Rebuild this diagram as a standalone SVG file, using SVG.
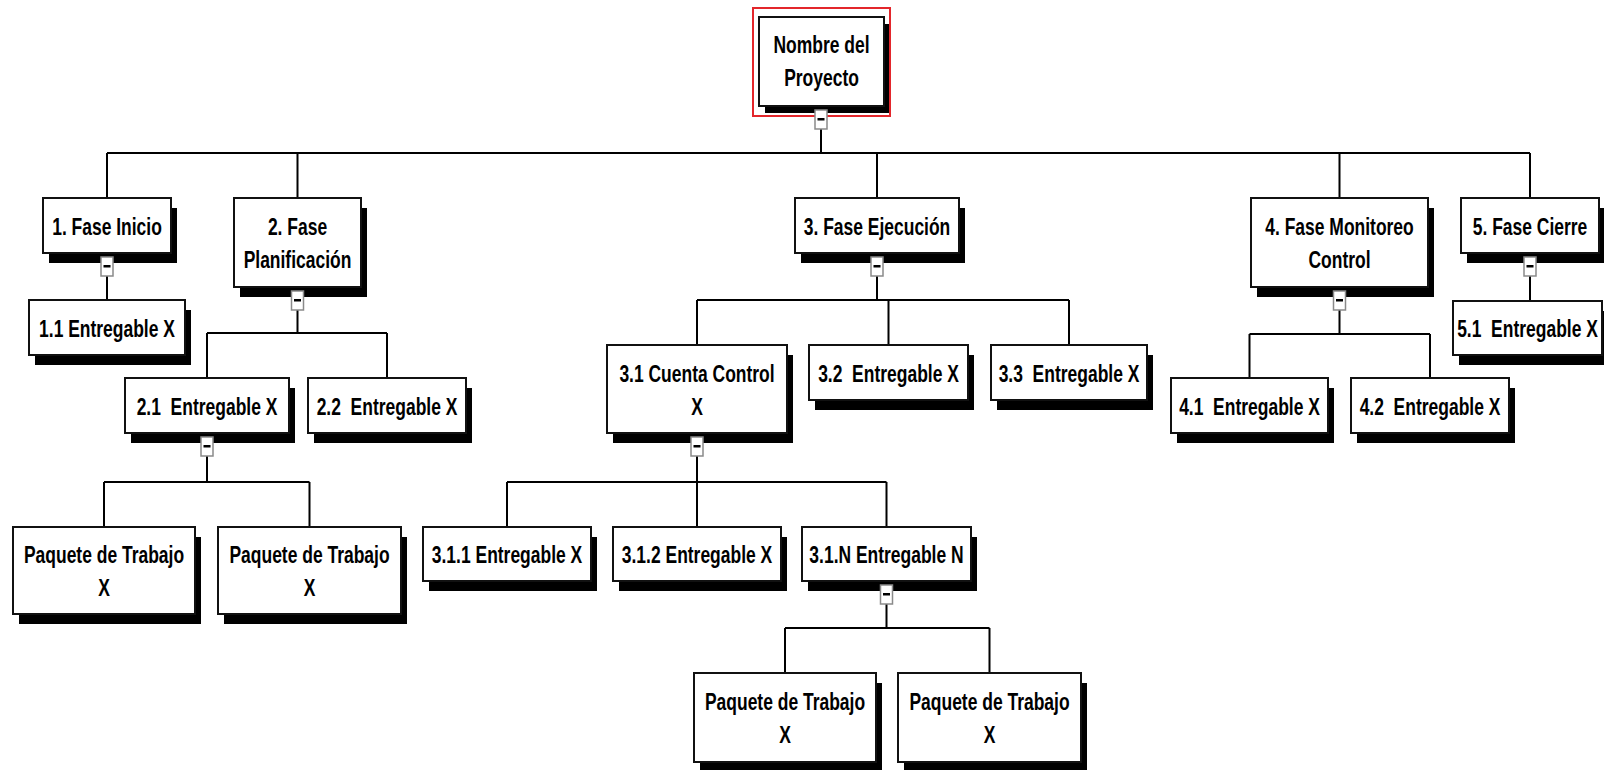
<svg xmlns="http://www.w3.org/2000/svg" width="1604" height="770" viewBox="0 0 1604 770">
  <style>
    .bg { fill: #ffffff; }
    .shadow { fill: #000000; }
    .box { fill: #ffffff; stroke: #111111; stroke-width: 2; }
    .sel { fill: none; stroke: #e3262b; stroke-width: 2; }
    .tog { fill: #ffffff; stroke: #8a8a8a; stroke-width: 1.5; }
    .minus { fill: #000000; }
    .wire { fill: none; stroke: #000000; stroke-width: 2; }
    .t { font-family: "Liberation Sans", Arial, sans-serif; font-weight: bold; font-size: 23px; fill: #000000; text-anchor: middle; white-space: pre; }
  </style>
  <defs>
    <!-- collapse toggle shown below an expanded node, origin at its top centre -->
    <g id="toggle">
      <rect class="tog" x="-6" y="0" width="12" height="19"/>
      <rect class="minus" x="-3.5" y="8" width="7" height="2.5"/>
    </g>
  </defs>

  <rect class="bg" x="0" y="0" width="1604" height="770"/>

  <!-- tree connectors -->
  <g id="connectors">
    <path class="wire" d="M821,129 V153 M107,153 H1530 M107,153 V198 M297.5,153 V198 M877,153 V198 M1339.5,153 V198 M1530,153 V198"/>
    <path class="wire" d="M107,276 V300"/>
    <path class="wire" d="M297.5,310 V333 M207,333 H387 M207,333 V378 M387,333 V378"/>
    <path class="wire" d="M207,456 V482 M104,482 H309.5 M104,482 V527 M309.5,482 V527"/>
    <path class="wire" d="M877,276 V300 M697,300 H1069 M697,300 V345 M888.5,300 V345 M1069,300 V345"/>
    <path class="wire" d="M697,456 V482 M507,482 H886.5 M507,482 V527 M697,482 V527 M886.5,482 V527"/>
    <path class="wire" d="M886.5,604 V628 M785,628 H989.5 M785,628 V673 M989.5,628 V673"/>
    <path class="wire" d="M1339.5,310 V334 M1249.5,334 H1430 M1249.5,334 V378 M1430,334 V378"/>
    <path class="wire" d="M1530,276 V301"/>
  </g>

  <!-- root -->
  <g id="root">
    <rect class="shadow" x="765" y="24" width="125" height="89"/>
    <rect class="box" x="759" y="17" width="125" height="89"/>
    <rect class="sel" x="753" y="8" width="137" height="108"/>
    <use href="#toggle" x="821" y="110"/>
    <text class="t" transform="translate(821.5,53) scale(0.76,1)">Nombre del</text>
    <text class="t" transform="translate(821.5,86) scale(0.76,1)">Proyecto</text>
  </g>

  <!-- phase 1 -->
  <g id="fase1">
    <rect class="shadow" x="49" y="208" width="128" height="55"/>
    <rect class="box" x="43" y="198" width="128" height="55"/>
    <use href="#toggle" x="107" y="257"/>
    <text class="t" transform="translate(107,235) scale(0.76,1)">1. Fase Inicio</text>
  </g>
  <g id="e1-1">
    <rect class="shadow" x="35" y="310" width="156" height="55"/>
    <rect class="box" x="29" y="300" width="156" height="55"/>
    <text class="t" transform="translate(107,336.5) scale(0.76,1)">1.1 Entregable X</text>
  </g>

  <!-- phase 2 -->
  <g id="fase2">
    <rect class="shadow" x="240" y="208" width="127" height="89"/>
    <rect class="box" x="234" y="198" width="127" height="89"/>
    <use href="#toggle" x="297.5" y="291"/>
    <text class="t" transform="translate(297.5,234.5) scale(0.76,1)">2. Fase</text>
    <text class="t" transform="translate(297.5,267.5) scale(0.76,1)">Planificación</text>
  </g>
  <g id="e2-1">
    <rect class="shadow" x="131" y="388" width="164" height="55"/>
    <rect class="box" x="125" y="378" width="164" height="55"/>
    <use href="#toggle" x="207" y="437"/>
    <text class="t" transform="translate(207,414.5) scale(0.76,1)">2.1  Entregable X</text>
  </g>
  <g id="e2-2">
    <rect class="shadow" x="314" y="388" width="158" height="55"/>
    <rect class="box" x="308" y="378" width="158" height="55"/>
    <text class="t" transform="translate(387,414.5) scale(0.76,1)">2.2  Entregable X</text>
  </g>
  <g id="wp2-1a">
    <rect class="shadow" x="19" y="537" width="182" height="87"/>
    <rect class="box" x="13" y="527" width="182" height="87"/>
    <text class="t" transform="translate(104,563) scale(0.76,1)">Paquete de Trabajo</text>
    <text class="t" transform="translate(104,596) scale(0.76,1)">X</text>
  </g>
  <g id="wp2-1b">
    <rect class="shadow" x="224" y="537" width="183" height="87"/>
    <rect class="box" x="218" y="527" width="183" height="87"/>
    <text class="t" transform="translate(309.5,563) scale(0.76,1)">Paquete de Trabajo</text>
    <text class="t" transform="translate(309.5,596) scale(0.76,1)">X</text>
  </g>

  <!-- phase 3 -->
  <g id="fase3">
    <rect class="shadow" x="801" y="208" width="164" height="55"/>
    <rect class="box" x="795" y="198" width="164" height="55"/>
    <use href="#toggle" x="877" y="257"/>
    <text class="t" transform="translate(877,235) scale(0.76,1)">3. Fase Ejecución</text>
  </g>
  <g id="c3-1">
    <rect class="shadow" x="613" y="355" width="180" height="88"/>
    <rect class="box" x="607" y="345" width="180" height="88"/>
    <use href="#toggle" x="697" y="437"/>
    <text class="t" transform="translate(697,381.5) scale(0.76,1)">3.1 Cuenta Control</text>
    <text class="t" transform="translate(697,414.5) scale(0.76,1)">X</text>
  </g>
  <g id="e3-2">
    <rect class="shadow" x="815" y="355" width="159" height="55"/>
    <rect class="box" x="809" y="345" width="159" height="55"/>
    <text class="t" transform="translate(888.5,381.5) scale(0.76,1)">3.2  Entregable X</text>
  </g>
  <g id="e3-3">
    <rect class="shadow" x="997" y="355" width="156" height="55"/>
    <rect class="box" x="991" y="345" width="156" height="55"/>
    <text class="t" transform="translate(1069,381.5) scale(0.76,1)">3.3  Entregable X</text>
  </g>
  <g id="e3-1-1">
    <rect class="shadow" x="429" y="537" width="168" height="54"/>
    <rect class="box" x="423" y="527" width="168" height="54"/>
    <text class="t" transform="translate(507,563) scale(0.76,1)">3.1.1 Entregable X</text>
  </g>
  <g id="e3-1-2">
    <rect class="shadow" x="619" y="537" width="168" height="54"/>
    <rect class="box" x="613" y="527" width="168" height="54"/>
    <text class="t" transform="translate(697,563) scale(0.76,1)">3.1.2 Entregable X</text>
  </g>
  <g id="e3-1-n">
    <rect class="shadow" x="808" y="537" width="169" height="54"/>
    <rect class="box" x="802" y="527" width="169" height="54"/>
    <use href="#toggle" x="886.5" y="585"/>
    <text class="t" transform="translate(886.5,563) scale(0.76,1)">3.1.N Entregable N</text>
  </g>
  <g id="wp3-1-na">
    <rect class="shadow" x="700" y="683" width="182" height="89"/>
    <rect class="box" x="694" y="673" width="182" height="89"/>
    <text class="t" transform="translate(785,709.5) scale(0.76,1)">Paquete de Trabajo</text>
    <text class="t" transform="translate(785,742.5) scale(0.76,1)">X</text>
  </g>
  <g id="wp3-1-nb">
    <rect class="shadow" x="904" y="683" width="183" height="89"/>
    <rect class="box" x="898" y="673" width="183" height="89"/>
    <text class="t" transform="translate(989.5,709.5) scale(0.76,1)">Paquete de Trabajo</text>
    <text class="t" transform="translate(989.5,742.5) scale(0.76,1)">X</text>
  </g>

  <!-- phase 4 -->
  <g id="fase4">
    <rect class="shadow" x="1257" y="208" width="177" height="89"/>
    <rect class="box" x="1251" y="198" width="177" height="89"/>
    <use href="#toggle" x="1339.5" y="291"/>
    <text class="t" transform="translate(1339.5,234.5) scale(0.76,1)">4. Fase Monitoreo</text>
    <text class="t" transform="translate(1339.5,267.5) scale(0.76,1)">Control</text>
  </g>
  <g id="e4-1">
    <rect class="shadow" x="1177" y="388" width="157" height="55"/>
    <rect class="box" x="1171" y="378" width="157" height="55"/>
    <text class="t" transform="translate(1249.5,414.5) scale(0.76,1)">4.1  Entregable X</text>
  </g>
  <g id="e4-2">
    <rect class="shadow" x="1357" y="388" width="158" height="55"/>
    <rect class="box" x="1351" y="378" width="158" height="55"/>
    <text class="t" transform="translate(1430,414.5) scale(0.76,1)">4.2  Entregable X</text>
  </g>

  <!-- phase 5 -->
  <g id="fase5">
    <rect class="shadow" x="1467" y="208" width="138" height="55"/>
    <rect class="box" x="1461" y="198" width="138" height="55"/>
    <use href="#toggle" x="1530" y="257"/>
    <text class="t" transform="translate(1530,235) scale(0.76,1)">5. Fase Cierre</text>
  </g>
  <g id="e5-1">
    <rect class="shadow" x="1459" y="311" width="149" height="54"/>
    <rect class="box" x="1453" y="301" width="149" height="54"/>
    <text class="t" transform="translate(1527.5,337) scale(0.76,1)">5.1  Entregable X</text>
  </g>
</svg>
